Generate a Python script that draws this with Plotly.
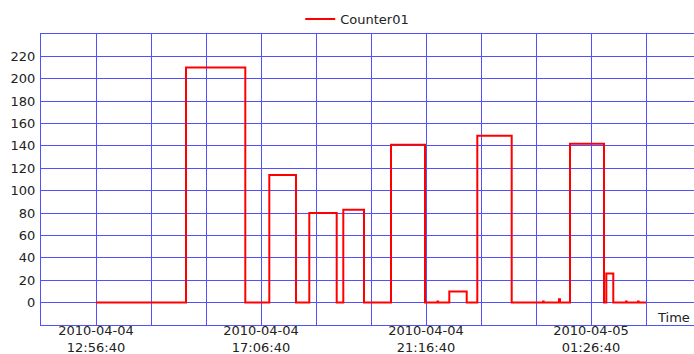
import plotly.graph_objects as go

# Counter01 samples (step series, value holds until the next timestamp)
times = [
    "2010-04-04 12:56:40", "2010-04-04 15:13:02", "2010-04-04 16:42:53",
    "2010-04-04 17:19:15", "2010-04-04 17:59:42", "2010-04-04 18:19:51",
    "2010-04-04 19:01:22", "2010-04-04 19:11:22", "2010-04-04 19:42:44",
    "2010-04-04 20:23:38", "2010-04-04 21:15:09", "2010-04-04 21:34:05",
    "2010-04-04 21:35:00", "2010-04-04 21:51:58", "2010-04-04 22:18:20",
    "2010-04-04 22:34:24", "2010-04-04 23:26:31", "2010-04-05 00:13:56",
    "2010-04-05 00:14:50", "2010-04-05 00:38:10", "2010-04-05 00:39:40",
    "2010-04-05 00:54:51", "2010-04-05 01:46:22", "2010-04-05 01:49:51",
    "2010-04-05 02:00:27", "2010-04-05 02:19:42", "2010-04-05 02:20:40",
    "2010-04-05 02:37:53", "2010-04-05 02:38:50", "2010-04-05 02:50:00",
]
counter01 = [
    0, 210, 0,
    114, 0, 80,
    0, 83, 0,
    141, 0, 1,
    0, 10, 0,
    149, 0, 1,
    0, 3, 0,
    142, 0, 26,
    0, 1, 0,
    1, 0, 0,
]

# Axis ticks
x_label_vals = ["2010-04-04 12:56:40", "2010-04-04 17:06:40",
                "2010-04-04 21:16:40", "2010-04-05 01:26:40"]
x_label_text = ["2010-04-04<br>12:56:40", "2010-04-04<br>17:06:40",
                "2010-04-04<br>21:16:40", "2010-04-05<br>01:26:40"]
y_tick_vals = [0, 20, 40, 60, 80, 100, 120, 140, 160, 180, 200, 220]

x_range = ["2010-04-04 11:33:20", "2010-04-05 04:02:44"]
y_range = [-20, 240]

grid_color = "rgb(80,80,255)"
font = dict(family="DejaVu Sans", size=13, color="#222222")

fig = go.Figure()
fig.add_trace(go.Scatter(
    x=times, y=counter01, mode="lines", name="Counter01",
    line=dict(color="rgb(255,0,0)", width=2, shape="hv"),
))

fig.update_layout(
    width=694, height=354,
    margin=dict(l=41, r=0, t=34, b=29, autoexpand=False),
    paper_bgcolor="white", plot_bgcolor="white",
    font=font,
    showlegend=True,
    legend=dict(orientation="h", x=0.397, xanchor="left", y=1.0, yanchor="bottom",
                font=font, bgcolor="rgba(0,0,0,0)"),
    xaxis=dict(
        type="date", range=x_range, automargin=False,
        tickmode="array", tickvals=x_label_vals, ticktext=x_label_text,
        showgrid=False,
        minor=dict(tickmode="linear", tick0="2010-04-04 12:56:40", dtick=5000000,
                   showgrid=True, gridcolor=grid_color, gridwidth=1),
        showline=True, linecolor=grid_color, linewidth=1, mirror=True,
        ticks="", zeroline=False, tickfont=font, ticklabelstandoff=-7,
    ),
    yaxis=dict(
        range=y_range, tickmode="array", tickvals=y_tick_vals, automargin=False,
        showgrid=True, gridcolor=grid_color, gridwidth=1,
        showline=True, linecolor=grid_color, linewidth=1, mirror=False,
        ticks="", zeroline=False, tickfont=font, ticklabelstandoff=2,
    ),
    annotations=[dict(
        text="Time", xref="paper", yref="paper", x=0.941, y=-0.008,
        xanchor="left", yanchor="bottom", showarrow=False, font=font,
    )],
)

fig.write_html("out.html")
